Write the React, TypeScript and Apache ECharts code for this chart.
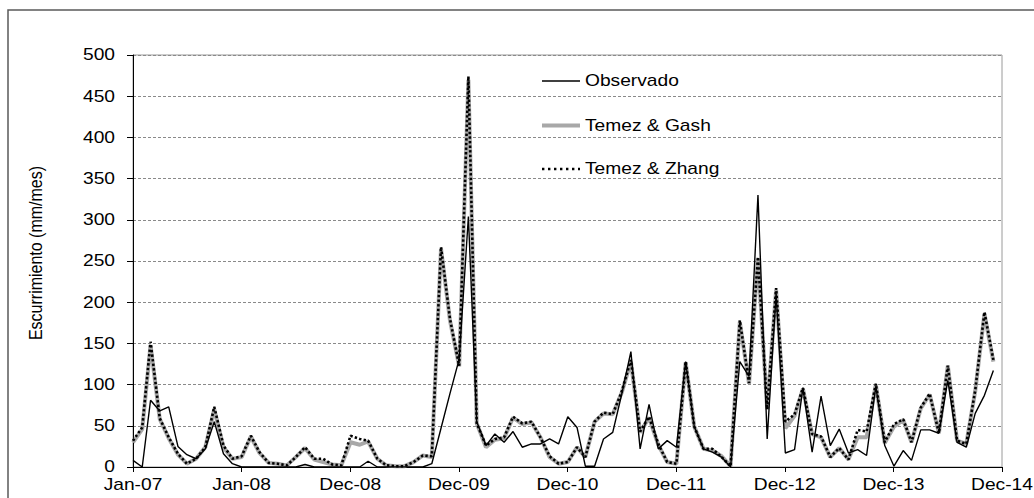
import React, { useEffect, useRef } from "react";
import * as echarts from "echarts";

// ---- data (monthly, Jan 2007 – Dec 2014) ----
const startYear = 2007;
const tickLabels = ["Jan-07", "Jan-08", "Dec-08", "Dec-09", "Dec-10", "Dec-11", "Dec-12", "Dec-13", "Dec-14"];
const tickStepDays = 365;
const yTicks = [0, 50, 100, 150, 200, 250, 300, 350, 400, 450, 500];
const seriesNames = ["Observado", "Temez & Gash", "Temez & Zhang"];
const axisTitle = "Escurrimiento (mm/mes)";

const observado = [
  8, 0, 81, 68, 73, 25, 15, 10, 22, 55, 16, 4,
  0, 0, 0, 0, 0, 0, 0, 3, 0, 0, 0, 0,
  0, 0, 7, 0, 0, 0, 0, 0, 0, 4, 47, 89,
  131, 304, 55, 26, 40, 30, 43, 24, 28, 28, 34, 28,
  61, 48, 1, 1, 34, 42, 88, 140, 22, 76, 22, 32,
  24, 128, 49, 22, 18, 12, 0, 128, 110, 330, 34, 210,
  17, 21, 96, 18, 86, 26, 46, 17, 21, 14, 98, 26,
  1, 20, 8, 45, 45, 41, 105, 30, 24, 65, 87, 117,
];
const temezGash = [
  30, 46, 148, 58, 35, 15, 4, 10, 24, 70, 24, 10,
  12, 37, 17, 5, 4, 2, 12, 23, 9, 6, 3, 2,
  30, 27, 31, 10, 2, 1, 1, 6, 14, 12, 265, 178,
  122, 470, 53, 24, 33, 35, 60, 52, 54, 36, 12, 4,
  6, 24, 12, 55, 65, 64, 90, 128, 42, 60, 27, 6,
  4, 127, 49, 22, 20, 13, 1, 176, 101, 253, 70, 215,
  47, 62, 95, 40, 36, 12, 23, 9, 36, 36, 100, 29,
  49, 57, 30, 71, 88, 41, 123, 32, 28, 92, 186, 128,
];
const temezZhang = [
  32, 48, 152, 59, 36, 16, 4, 10, 24, 73, 26, 10,
  13, 38, 18, 5, 4, 2, 12, 24, 10, 10, 3, 2,
  38, 34, 32, 10, 2, 1, 1, 6, 14, 13, 267, 180,
  123, 474, 53, 26, 34, 36, 61, 53, 55, 36, 13, 4,
  6, 24, 12, 55, 66, 64, 91, 130, 43, 61, 28, 6,
  4, 128, 49, 22, 22, 12, 1, 178, 102, 255, 70, 217,
  55, 64, 96, 40, 37, 12, 23, 9, 45, 43, 101, 30,
  52, 58, 30, 72, 89, 41, 123, 32, 28, 93, 188, 130,
];

const DAY_MS = 86400000;
const toPoints = (values: number[]) =>
  values.map((v, i) => [(Date.UTC(startYear, i, 1) - Date.UTC(startYear, 0, 1)) / DAY_MS, v]);

const FONT = "'Liberation Sans', Arial, Helvetica, sans-serif";
const STRETCH = 1.2;

export default function App() {
  const ref = useRef<HTMLDivElement>(null);

  useEffect(() => {
    if (!ref.current) return;
    const chart = echarts.init(ref.current, null, { renderer: "svg" });
    const xMax = tickStepDays * (tickLabels.length - 1);

    chart.setOption({
      animation: false,
      backgroundColor: "#ffffff",
      grid: {
        left: 133,
        top: 55,
        width: 869,
        height: 412,
        show: true,
        borderColor: "#9a9a9a",
        borderWidth: 1,
        backgroundColor: "transparent",
      },
      xAxis: {
        type: "value",
        min: 0,
        max: xMax,
        interval: tickStepDays,
        axisLine: { show: true, onZero: false, lineStyle: { color: "#000", width: 1 } },
        axisTick: { show: true, length: 5, lineStyle: { color: "#000", width: 1 } },
        axisLabel: { show: false },
        splitLine: { show: false },
      },
      yAxis: {
        type: "value",
        min: 0,
        max: 500,
        interval: 50,
        axisLine: { show: true, lineStyle: { color: "#000", width: 1 } },
        axisTick: { show: true, length: 6, lineStyle: { color: "#000", width: 1 } },
        axisLabel: { show: false },
        splitLine: { show: true, lineStyle: { color: "#8a8a8a", width: 1, type: [3, 2] } },
      },
      series: [
        {
          name: seriesNames[1],
          type: "line",
          data: toPoints(temezGash),
          showSymbol: false,
          symbol: "none",
          z: 2,
          lineStyle: { color: "#a8a8a8", width: 4 },
        },
        {
          name: seriesNames[2],
          type: "line",
          data: toPoints(temezZhang),
          showSymbol: false,
          symbol: "none",
          z: 3,
          lineStyle: { color: "#000", width: 2.6, type: [2.4, 2.2] },
        },
        {
          name: seriesNames[0],
          type: "line",
          data: toPoints(observado),
          showSymbol: false,
          symbol: "none",
          z: 4,
          lineStyle: { color: "#000", width: 1.4 },
        },
      ],
    });

    const graphics: any[] = [];
    // outer frame
    graphics.push({
      type: "rect",
      silent: true,
      shape: { x: 8, y: 10, width: 1100, height: 600 },
      style: { fill: "none", stroke: "#5a5a5a", lineWidth: 1.5 },
    });
    const textStyle = (text: string, align: string, vAlign: string) => ({
      text,
      fill: "#000",
      fontSize: 16,
      fontFamily: FONT,
      align,
      verticalAlign: vAlign,
      textAlign: align,
      textVerticalAlign: vAlign,
    });
    // x tick labels
    tickLabels.forEach((t, i) => {
      const px = chart.convertToPixel({ xAxisIndex: 0 }, i * tickStepDays) as number;
      graphics.push({ type: "text", x: px, y: 485, scaleX: STRETCH, silent: true, style: textStyle(t, "center", "middle") });
    });
    // y tick labels
    yTicks.forEach((v) => {
      const py = chart.convertToPixel({ yAxisIndex: 0 }, v) as number;
      graphics.push({ type: "text", x: 115, y: py, scaleX: STRETCH, silent: true, style: textStyle(String(v), "right", "middle") });
    });
    // axis title
    graphics.push({
      type: "text",
      x: 35,
      y: 253,
      rotation: Math.PI / 2,
      scaleY: STRETCH,
      silent: true,
      style: textStyle(axisTitle, "center", "middle"),
    });
    // legend
    const legendRows = [
      { name: seriesNames[0], y: 81, stroke: "#000", width: 1.4, dash: null },
      { name: seriesNames[1], y: 125.5, stroke: "#a8a8a8", width: 4, dash: null },
      { name: seriesNames[2], y: 169, stroke: "#000", width: 2.6, dash: [2.4, 3.6] },
    ];
    legendRows.forEach((r) => {
      graphics.push({
        type: "line",
        silent: true,
        shape: { x1: 542, y1: r.y, x2: 580, y2: r.y },
        style: { stroke: r.stroke, lineWidth: r.width, lineDash: r.dash || undefined },
      });
      graphics.push({ type: "text", x: 585, y: r.y, scaleX: STRETCH, silent: true, style: textStyle(r.name, "left", "middle") });
    });

    chart.setOption({ graphic: graphics });

    return () => chart.dispose();
  }, []);

  return (
    <div
      ref={ref}
      style={{ position: "fixed", left: 0, top: 0, width: 1034, height: 498, background: "#fff" }}
    />
  );
}
